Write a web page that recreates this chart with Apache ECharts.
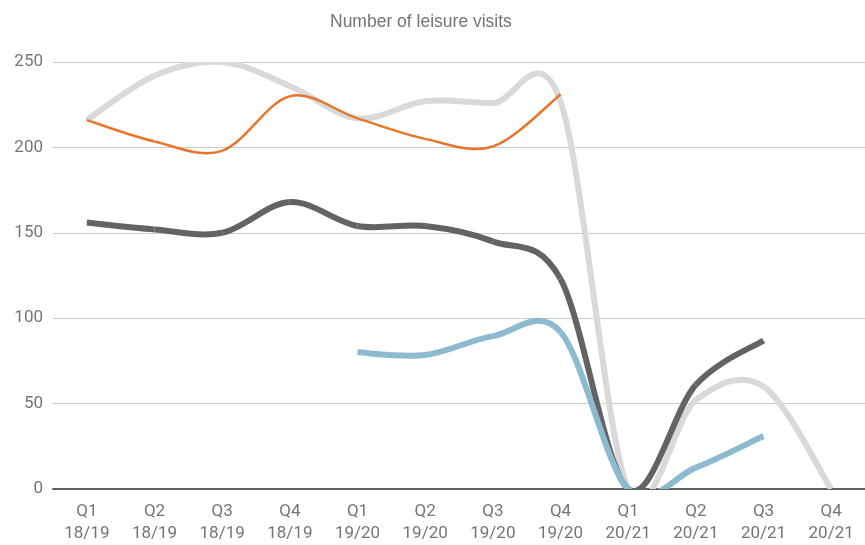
<!DOCTYPE html>
<html>
<head>
<meta charset="utf-8">
<script src="https://cdn.jsdelivr.net/npm/echarts@6/dist/echarts.min.js"></script>
<style>
  html, body { margin: 0; padding: 0; background: #ffffff; }
  #chart { width: 865px; height: 545px; }
</style>
</head>
<body>
<div id="chart"></div>
<script>
// Quarters shown along the x axis
const quarters = [
  'Q1\n18/19', 'Q2\n18/19', 'Q3\n18/19', 'Q4\n18/19',
  'Q1\n19/20', 'Q2\n19/20', 'Q3\n19/20', 'Q4\n19/20',
  'Q1\n20/21', 'Q2\n20/21', 'Q3\n20/21', 'Q4\n20/21'
];

// Visits per quarter for each line (null = no value)
const lightGreyVisits = [216, 242, 250, 236, 217, 227, 226, 227, 0, 52, 60, 0];
const darkGreyVisits  = [156, 152, 150, 168, 154, 154, 145, 123, 0, 61, 87, null];
const blueVisits      = [null, null, null, null, 80, 78.5, 89.5, 92, 0, 12.5, 31, null];
const orangeVisits    = [216, 203.5, 198, 230, 217, 205, 200.5, 231, null, null, null, null];

const yTicks = { min: 0, max: 250, interval: 50 };

const chart = echarts.init(document.getElementById('chart'));

// Smoothed line drawn segment by segment as cubic Bezier curves
// (Catmull-Rom style tangents), positioned through the axis scales.
function curveSeries(name, values, color, width) {
  return {
    name: name,
    type: 'custom',
    clip: true,
    silent: true,
    animation: false,
    data: values.map(function (v, i) { return [i, v]; }),
    encode: { x: 0, y: 1 },
    renderItem: function (params, api) {
      const i = params.dataIndex;
      const v1 = values[i];
      const v2 = values[i + 1];
      if (v1 == null || v2 == null) return null;
      const hasPrev = i - 1 >= 0 && values[i - 1] != null;
      const hasNext = i + 2 < values.length && values[i + 2] != null;
      const p1 = api.coord([i, v1]);
      const p2 = api.coord([i + 1, v2]);
      const p0 = hasPrev ? api.coord([i - 1, values[i - 1]]) : p1;
      const p3 = hasNext ? api.coord([i + 2, values[i + 2]]) : p2;
      return {
        type: 'bezierCurve',
        shape: {
          x1: p1[0], y1: p1[1],
          cpx1: p1[0] + (p2[0] - p0[0]) / 6,
          cpy1: p1[1] + (p2[1] - p0[1]) / 6,
          cpx2: p2[0] - (p3[0] - p1[0]) / 6,
          cpy2: p2[1] - (p3[1] - p1[1]) / 6,
          x2: p2[0], y2: p2[1]
        },
        style: {
          fill: null,
          stroke: color,
          lineWidth: width,
          lineCap: 'butt'
        }
      };
    }
  };
}

chart.setOption({
  animation: false,
  backgroundColor: '#ffffff',
  title: {
    text: 'Number of leisure visits',
    left: 325,
    top: 8,
    textStyle: {
      fontFamily: 'Liberation Sans, Arial, sans-serif',
      fontSize: 17.5,
      fontWeight: 'normal',
      color: '#757575'
    }
  },
  grid: { left: 53, right: 0, top: 62, bottom: 53, containLabel: false },
  xAxis: {
    type: 'category',
    data: quarters,
    boundaryGap: true,
    axisLine: { show: true, lineStyle: { color: '#5f5f5f', width: 2 } },
    axisTick: { show: false },
    axisLabel: {
      interval: 0,
      margin: 12,
      fontFamily: 'Roboto, sans-serif',
      fontSize: 17,
      lineHeight: 22,
      color: '#757575'
    },
    splitLine: { show: false }
  },
  yAxis: {
    type: 'value',
    min: yTicks.min,
    max: yTicks.max,
    interval: yTicks.interval,
    axisLine: { show: false },
    axisTick: { show: false },
    axisLabel: {
      margin: 10,
      fontFamily: 'Roboto, sans-serif',
      fontSize: 17,
      color: '#757575'
    },
    splitLine: { show: true, lineStyle: { color: '#cccccc', width: 1 } }
  },
  series: [
    curveSeries('Light grey', lightGreyVisits, '#d9d9d9', 6),
    curveSeries('Dark grey', darkGreyVisits, '#636363', 6),
    curveSeries('Blue', blueVisits, '#8cbacf', 6),
    curveSeries('Orange', orangeVisits, '#e8762a', 2.5)
  ]
});
</script>
</body>
</html>
